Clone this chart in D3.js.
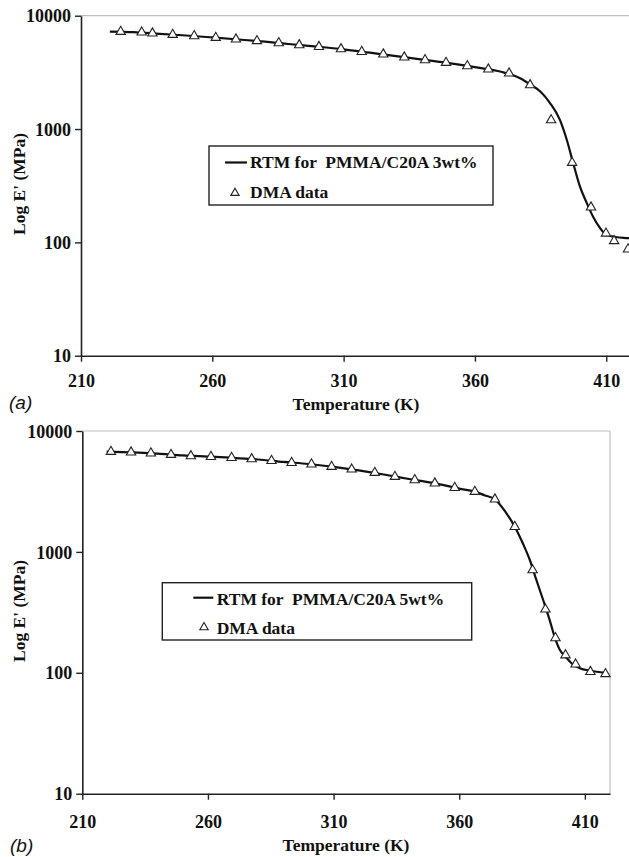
<!DOCTYPE html>
<html>
<head>
<meta charset="utf-8">
<script src="https://cdn.jsdelivr.net/npm/d3@7/dist/d3.min.js"></script>
<style>
  html, body { margin: 0; padding: 0; background: #fff; }
  svg text { font-family: "Liberation Serif", "Times New Roman", "DejaVu Serif", serif; font-weight: bold; fill: #111; }
</style>
</head>
<body>
<svg id="chart" width="629" height="857"></svg>
<script>
// ---------- DATA ----------
const xTicks = [210, 260, 310, 360, 410];
const yTicks = [10, 100, 1000, 10000];
const xTitle = "Temperature (K)";
const yTitle = "Log E' (MPa)";

// Panel (a): PMMA/C20A 3wt%
const dmaTempA = [225.1, 233.1, 237.2, 244.9, 253.1, 261.3, 269.0, 277.0, 285.3, 293.1, 300.6, 309.0, 316.9, 325.1, 333.1, 341.0, 349.0, 357.1, 365.1, 373.0, 381.0, 389.0, 397.0, 404.2, 409.9, 413.0, 418.3];
const dmaValA  = [7230, 7130, 6995, 6795, 6620, 6395, 6190, 5985, 5745, 5510, 5320, 5080, 4810, 4565, 4295, 4065, 3850, 3600, 3365, 3105, 2445, 1200, 505, 204, 120, 103, 87];
const rtmTempA = [221, 230, 240, 250, 260, 270, 280, 290, 300, 310, 320, 330, 340, 350, 360, 370, 377, 381, 385, 388.6, 392.4, 395, 397.4, 400, 402.6, 405, 407.6, 410.2, 414, 418.3, 420];
const rtmValA  = [7250, 7170, 6920, 6690, 6430, 6165, 5900, 5600, 5335, 5050, 4715, 4400, 4095, 3820, 3515, 3200, 2820, 2480, 2135, 1695, 1200, 800, 501, 310, 222, 168, 134, 116, 111, 109, 108];
const legendA = ["RTM for  PMMA/C20A 3wt%", "DMA data"];

// Panel (b): PMMA/C20A 5wt%
const dmaTempB = [221.4, 229.4, 237.3, 245.3, 253.2, 261.2, 269.4, 277.4, 285.3, 293.3, 301.2, 309.2, 317.2, 326.4, 334.4, 342.3, 350.3, 358.2, 366.2, 374.2, 382.1, 389.2, 394.3, 398.3, 402.3, 406.3, 412.2, 418.2];
const dmaValB  = [6745, 6670, 6545, 6370, 6210, 6125, 6010, 5865, 5675, 5465, 5310, 5070, 4820, 4520, 4190, 3935, 3695, 3395, 3150, 2725, 1615, 707, 335, 194, 140, 117.5, 102, 97.8];
const rtmTempB = [219.7, 230, 240, 250, 260, 270, 280, 290, 300, 310, 320, 330, 340, 350, 360, 366.2, 370, 374.2, 378.8, 382.1, 385.3, 388.1, 390.7, 393.4, 396.0, 398.0, 400.0, 402.3, 404.7, 408.0, 412.2, 418.2];
const rtmValB  = [6760, 6660, 6490, 6275, 6140, 6000, 5810, 5550, 5335, 5045, 4720, 4370, 4010, 3705, 3340, 3150, 2945, 2725, 2085, 1615, 1178, 857, 586, 400, 273, 197, 155, 136, 120, 109, 104, 100];
const legendB = ["RTM for  PMMA/C20A 5wt%", "DMA data"];

const panelLabels = ["(a)", "(b)"];

// ---------- LAYOUT ----------
const panels = [
  { left: 81, top: 15.7, bottom: 355.7, right: 632.5, titleX: 356,
    dmaT: dmaTempA, dmaV: dmaValA, rtmT: rtmTempA, rtmV: rtmValA, legend: legendA,
    legBox: [209, 146, 493, 205], legLineY: 162.5, legLineX: [225, 247], legTextX: 250, legTri: [235, 193],
    legBase: [168, 198], xLabelY: 387.5, titleY: 410, yTitleY: 184, label: panelLabels[0], labelPos: [9, 409] },
  { left: 82.3, top: 431, bottom: 793.7, right: 610, titleX: 346,
    dmaT: dmaTempB, dmaV: dmaValB, rtmT: rtmTempB, rtmV: rtmValB, legend: legendB,
    legBox: [162.3, 582.7, 471.7, 640], legLineY: 597.7, legLineX: [193.3, 213.3], legTextX: 216.7, legTri: [204, 627.3],
    legBase: [604.5, 634], xLabelY: 828.5, titleY: 851, yTitleY: 611, label: panelLabels[1], labelPos: [10, 852] }
];

const serif = '"Liberation Serif", "Times New Roman", "DejaVu Serif", serif';
const svg = d3.select("#chart");

panels.forEach(p => {
  const x = d3.scaleLinear().domain([210, 420]).range([p.left, p.right]);
  const y = d3.scaleLog().domain([10, 10000]).range([p.bottom, p.top]);
  const g = svg.append("g");

  // gray frame top & right
  g.append("line").attr("x1", p.left).attr("x2", p.right).attr("y1", p.top).attr("y2", p.top)
    .attr("stroke", "#bdbdbd").attr("stroke-width", 1.2);
  g.append("line").attr("x1", p.right).attr("x2", p.right).attr("y1", p.top).attr("y2", p.bottom)
    .attr("stroke", "#bdbdbd").attr("stroke-width", 1.2);

  // x axis
  const xAxis = d3.axisBottom(x).tickValues(xTicks).tickSize(6).tickSizeOuter(0)
    .tickFormat(d3.format("d"));
  const gx = g.append("g").attr("transform", `translate(0,${p.bottom})`).call(xAxis);
  gx.attr("font-family", null);
  gx.select(".domain").attr("stroke", "#222").attr("stroke-width", 1.6);
  gx.selectAll(".tick line").attr("stroke", "#222").attr("stroke-width", 1.4);
  gx.selectAll(".tick text").attr("y", p.xLabelY - p.bottom).attr("dy", null)
    .style("font-size", "18px").style("font-family", serif).style("font-weight", "bold").attr("fill", "#111");

  // y axis
  const yAxis = d3.axisLeft(y).tickValues(yTicks).tickSize(6).tickSizeOuter(0).tickPadding(4)
    .tickFormat(d3.format("d"));
  const gy = g.append("g").attr("transform", `translate(${p.left},0)`).call(yAxis);
  gy.attr("font-family", null);
  gy.select(".domain").attr("stroke", "#222").attr("stroke-width", 1.6);
  gy.selectAll(".tick line").attr("stroke", "#222").attr("stroke-width", 1.4);
  gy.selectAll(".tick text").style("font-size", "18px").style("font-family", serif)
    .style("font-weight", "bold").attr("fill", "#111").attr("dy", "0.34em");

  // titles
  g.append("text").attr("x", p.titleX).attr("y", p.titleY)
    .attr("text-anchor", "middle").style("font-size", "17.5px").text(xTitle);
  g.append("text").attr("transform", `translate(25,${p.yTitleY}) rotate(-90)`)
    .attr("text-anchor", "middle").style("font-size", "17.5px").text(yTitle);

  // panel label
  g.append("text").attr("x", p.labelPos[0]).attr("y", p.labelPos[1])
    .style("font-family", '"Liberation Sans", Arial, sans-serif').style("font-weight", "normal")
    .style("font-style", "italic").style("font-size", "19px").text(p.label);

  // RTM line
  const rtm = p.rtmT.map((t, i) => [t, p.rtmV[i]]);
  const line = d3.line().x(d => x(d[0])).y(d => y(d[1])).curve(d3.curveMonotoneX);
  g.append("path").datum(rtm).attr("d", line).attr("fill", "none")
    .attr("stroke", "#111").attr("stroke-width", 2.2);

  // DMA triangles
  const tri = d3.symbol().type(d3.symbolTriangle).size(38);
  const dma = p.dmaT.map((t, i) => [t, p.dmaV[i]]);
  g.selectAll(".dma").data(dma).join("path")
    .attr("transform", d => `translate(${x(d[0])},${y(d[1])})`)
    .attr("d", tri).attr("fill", "#fff").attr("stroke", "#222").attr("stroke-width", 1.1);

  // legend
  const [bx0, by0, bx1, by1] = p.legBox;
  g.append("rect").attr("x", bx0).attr("y", by0).attr("width", bx1 - bx0).attr("height", by1 - by0)
    .attr("fill", "#fff").attr("stroke", "#222").attr("stroke-width", 1.4);
  g.append("line").attr("x1", p.legLineX[0]).attr("x2", p.legLineX[1]).attr("y1", p.legLineY).attr("y2", p.legLineY)
    .attr("stroke", "#111").attr("stroke-width", 2.2);
  g.append("text").attr("x", p.legTextX).attr("y", p.legBase[0]).style("font-size", "17.5px")
    .style("white-space", "pre").text(p.legend[0]);
  g.append("path").attr("transform", `translate(${p.legTri[0]},${p.legTri[1]})`)
    .attr("d", d3.symbol().type(d3.symbolTriangle).size(30)).attr("fill", "#fff").attr("stroke", "#222").attr("stroke-width", 1.1);
  g.append("text").attr("x", p.legTextX).attr("y", p.legBase[1]).style("font-size", "17.5px")
    .style("white-space", "pre").text(p.legend[1]);
});
</script>
</body>
</html>
